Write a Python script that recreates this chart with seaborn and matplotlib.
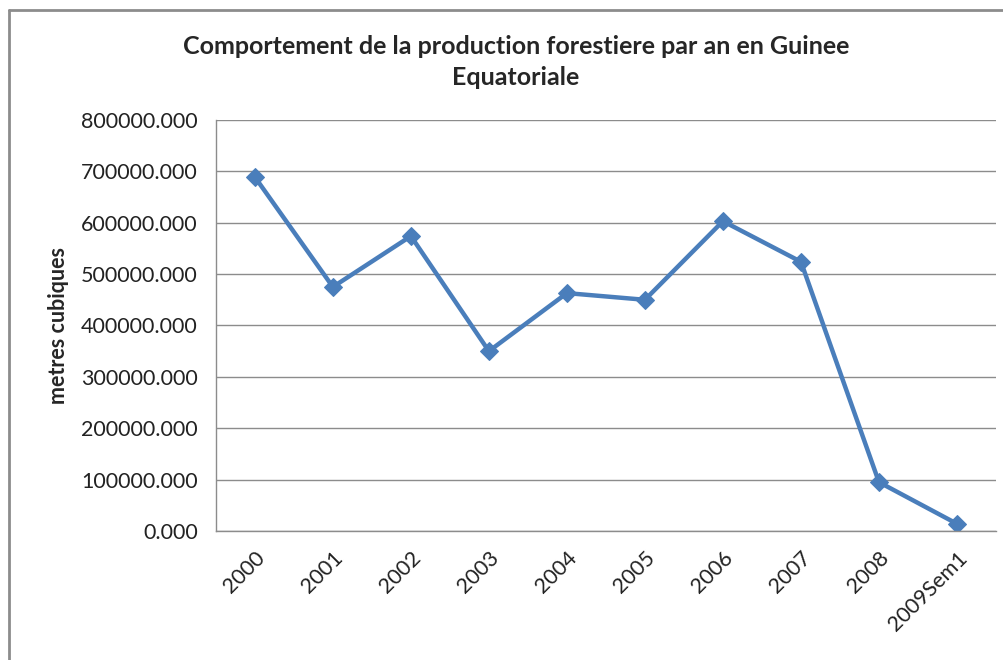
import numpy as np
import pandas as pd
import matplotlib.pyplot as plt
import seaborn as sns
from matplotlib.lines import Line2D

# data
years = ['2000', '2001', '2002', '2003', '2004', '2005', '2006', '2007', '2008', '2009Sem1']
volume = [689000, 475000, 574000, 350000, 463000, 450000, 603000, 524000, 95000, 14000]

df = pd.DataFrame({'annee': years, 'volume': volume})

sns.set_style('white')
plt.rcParams['font.family'] = ['Lato', 'DejaVu Sans']

fig = plt.figure(figsize=(10.04, 6.6), dpi=100)
ax = fig.add_axes([0.215, 0.1955, 0.777, 0.6227])

sns.lineplot(data=df, x='annee', y='volume', ax=ax, sort=False,
             color='#4a7ebb', linewidth=3.2, marker='D', markersize=9,
             markeredgecolor='#4a7ebb')

ax.set_xlim(-0.5, 9.5)
ax.set_ylim(0, 800000)
ax.set_yticks(np.arange(0, 800001, 100000))
ax.set_yticklabels([f'{v:.3f}' for v in np.arange(0, 800001, 100000)], fontsize=15.5, color='#222222')
ax.yaxis.grid(True, color='#8c8c8c', linewidth=1)
ax.set_axisbelow(True)
ax.tick_params(axis='y', length=0, pad=13)
ax.tick_params(axis='x', length=0, pad=12)

ax.set_xticks(range(len(years)))
ax.set_xticklabels(years, rotation=45, ha='right', rotation_mode='anchor', fontsize=15.5, color='#222222')
ax.set_xlabel('')
ax.set_ylabel('metres cubiques', fontsize=15.5, fontweight='bold', labelpad=9)

for side in ['top', 'right']:
    ax.spines[side].set_visible(False)
for side in ['left', 'bottom']:
    ax.spines[side].set_color('#8c8c8c')
    ax.spines[side].set_linewidth(1)

fig.text(0.514, 0.929, 'Comportement de la production forestiere par an en Guinee',
         ha='center', va='center', fontsize=18, fontweight='bold')
fig.text(0.514, 0.883, 'Equatoriale', ha='center', va='center', fontsize=18, fontweight='bold')

# chart frame, partly cut off at right and bottom
fig.add_artist(Line2D([0.009, 0.009], [0, 0.985], color='#8c8c8c', linewidth=2))
fig.add_artist(Line2D([0.009, 1.0], [0.985, 0.985], color='#8c8c8c', linewidth=2))

fig.savefig('out.png', dpi=100)
